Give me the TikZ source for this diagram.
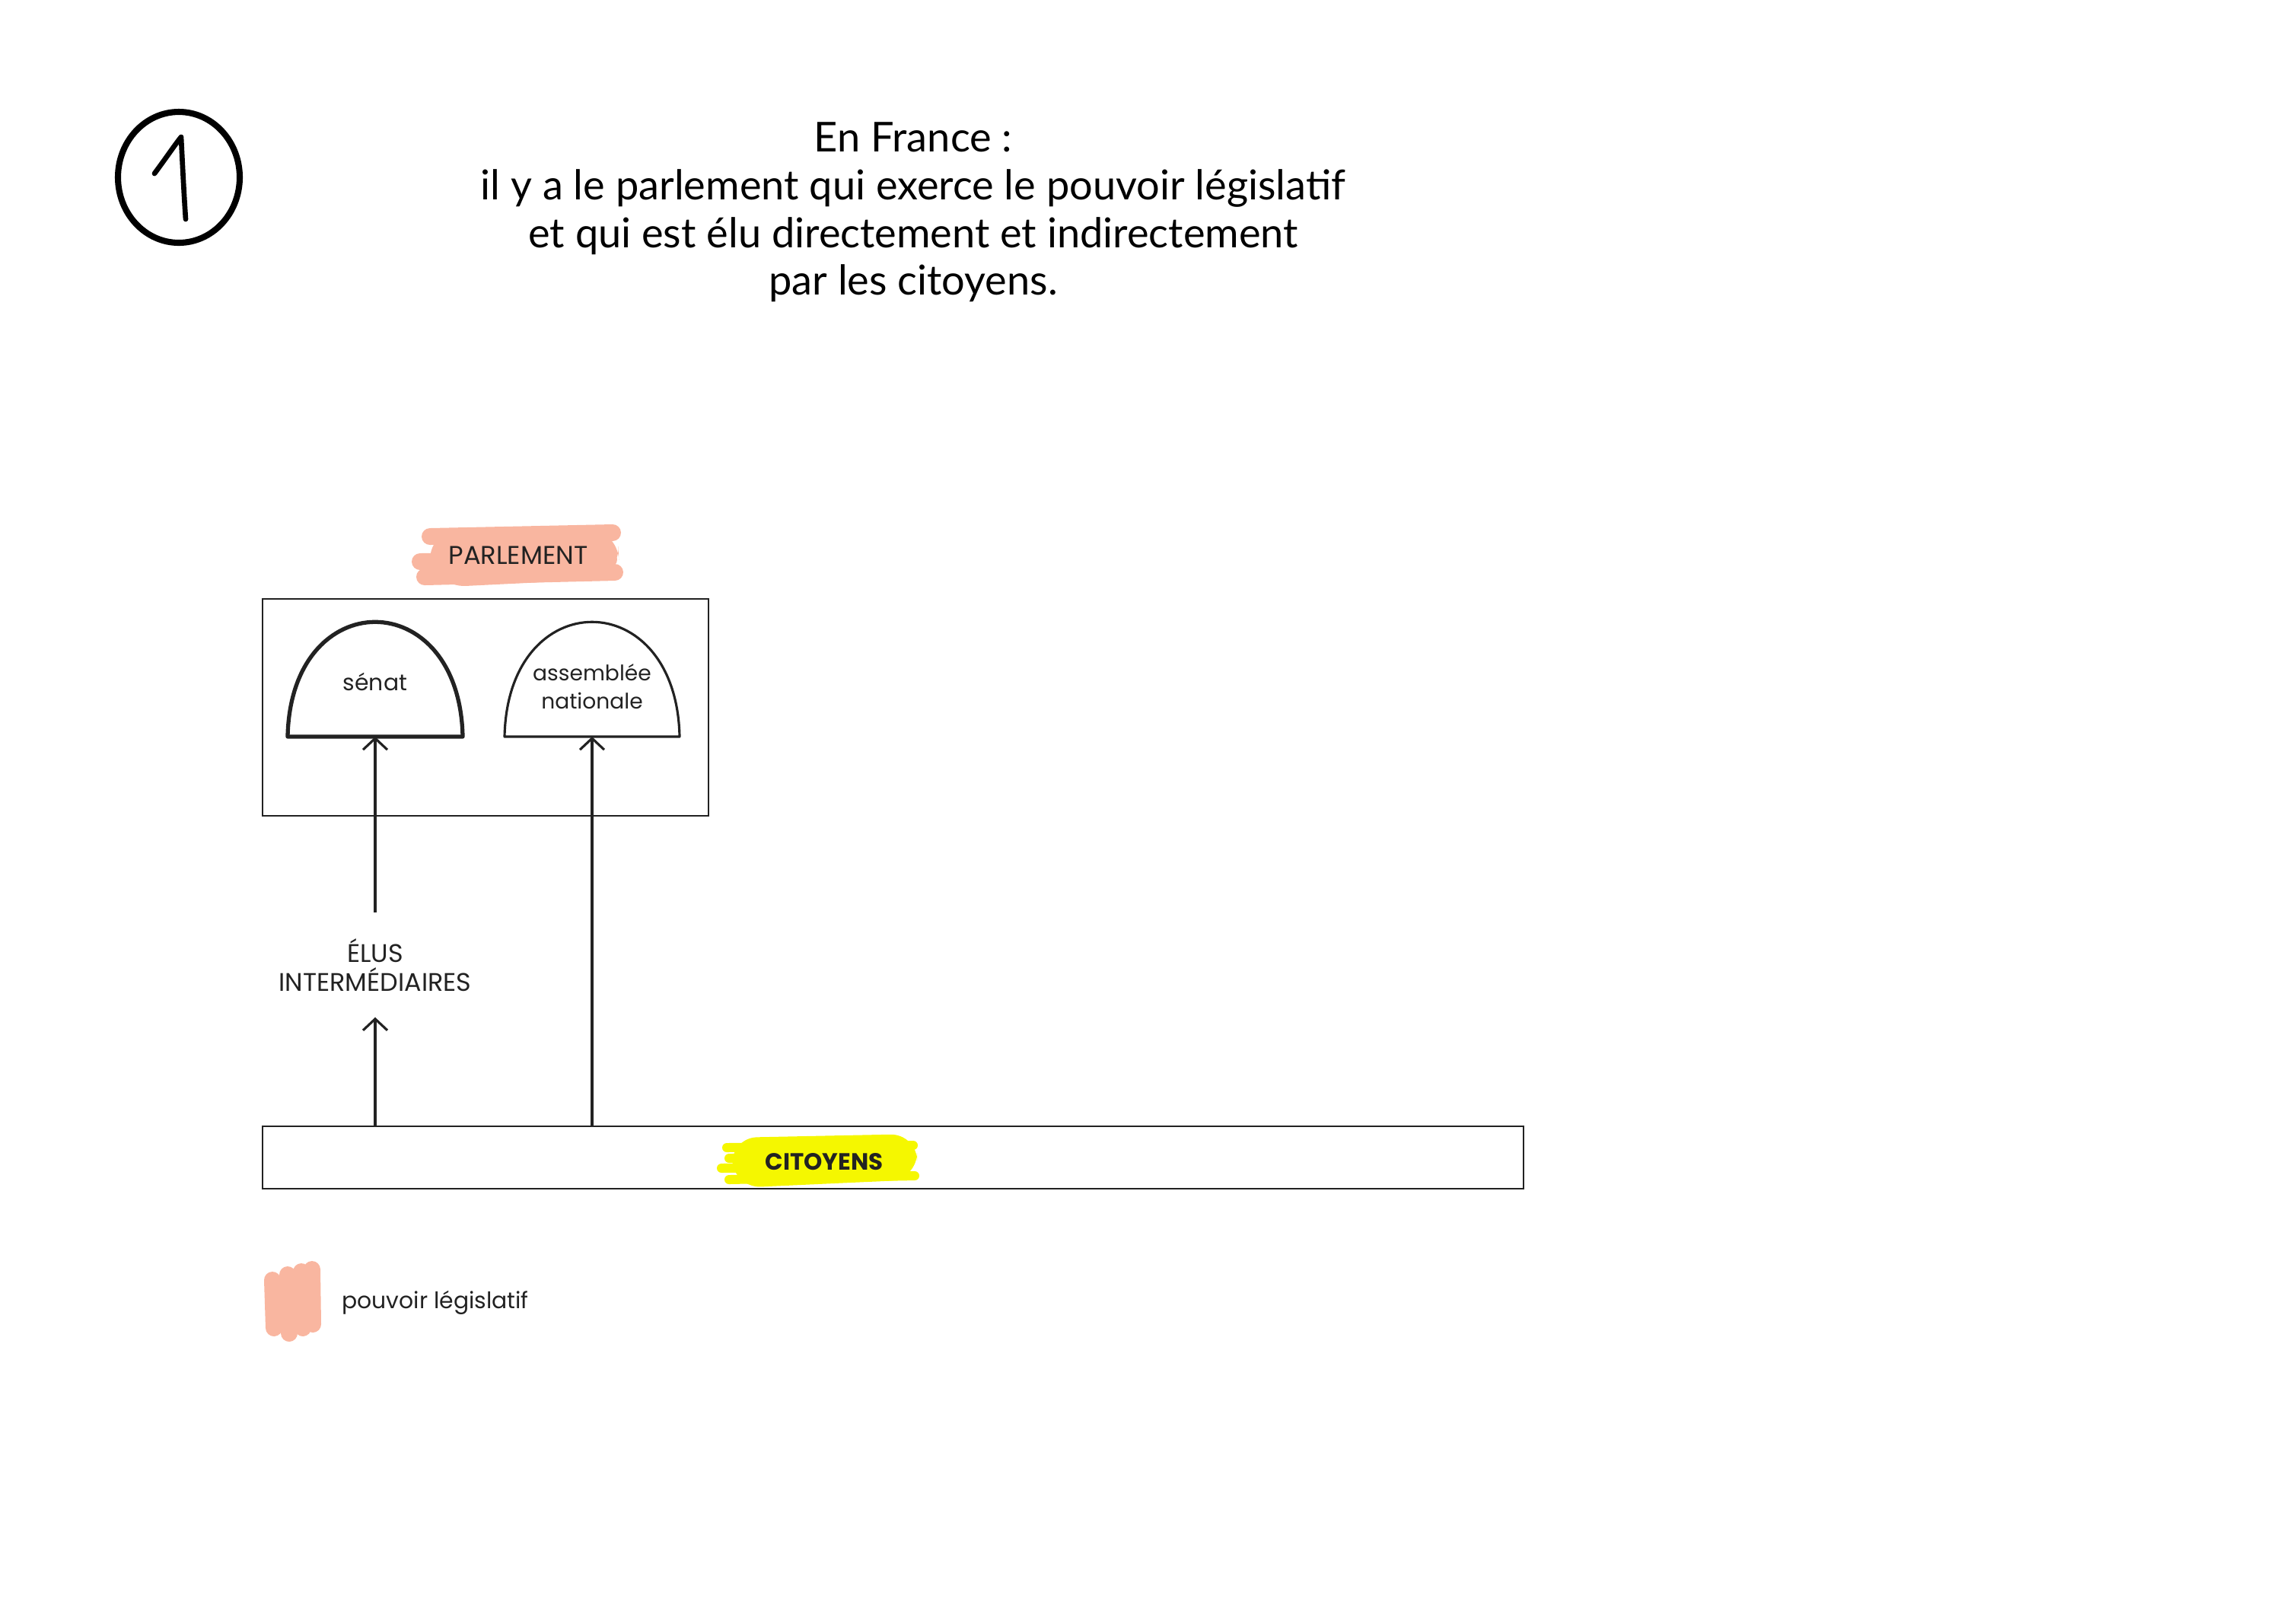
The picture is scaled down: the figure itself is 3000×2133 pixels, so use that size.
\documentclass[tikz,border=0pt]{standalone}
\usepackage{fontspec}
\setmainfont{Poppins}
\newfontfamily\titlefont{Lato}
\usetikzlibrary{arrows.meta}
\definecolor{salmon}{HTML}{F9B6A0}
\definecolor{hlyellow}{HTML}{F5F700}
\definecolor{ink}{HTML}{222222}
\tikzset{
  frame/.style={draw=ink, line width=0.6pt, inner sep=0pt},
  label/.style={text=ink, font=\fontsize{8.5}{11}\selectfont, align=center},
  caps/.style={text=ink, font=\fontsize{9.6}{11.2}\selectfont, align=center},
  link/.style={draw=ink, line width=0.9pt, -{Straight Barb[length=1.5mm, width=3.2mm, line width=0.9pt]}},
  brush/.style={line width=2.2mm, line cap=round},
}
\begin{document}
\begin{tikzpicture}[x=0.1mm, y=-0.1mm]
\useasboundingbox (0,0) rectangle (3000,2133);
% circled number
\draw[line width=2.3pt, black] (235,233) ellipse [x radius=80, y radius=86];
\draw[line width=1.9pt, black, line cap=round, line join=round] (203,228) .. controls (220,205) and (230,190) .. (238,180) .. controls (240,220) and (242,260) .. (244,288);
% title
\node[font=\titlefont\fontsize{15.4}{17.9}\selectfont, align=center, text=black, anchor=north] (title) at (1200,148) {En France :\\il y a le parlement qui exerce le pouvoir législatif\\et qui est élu directement et indirectement\\par les citoyens.};
% PARLEMENT highlight
\fill[salmon, rounded corners=12] (560,698) -- (812,694) -- (814,760) -- (570,772) -- cycle;
\draw[salmon, brush] (565,705) -- (805,700);
\draw[salmon, brush] (552,738) -- (800,735);
\draw[salmon, brush] (558,758) -- (808,752);
\node[caps] (parltitle) at (681,730) {PARLEMENT};
% parliament box
\node[frame, minimum width=58.6mm, minimum height=28.5mm, anchor=north west] (parl) at (344,786) {};
% senate dome
\draw[ink, line width=1.5pt, line join=round] (378,968) .. controls (382,767) and (604,767) .. (608,968) -- cycle;
\coordinate (senat) at (493,968);
\node[label] (senattxt) at (493,896) {sénat};
% assemblee dome
\draw[ink, line width=0.9pt, line join=round] (663,968) .. controls (667,767) and (889,767) .. (893,968) -- cycle;
\coordinate (an) at (778,968);
\node[label, font=\fontsize{8}{10.6}\selectfont] (antxt) at (778,902) {assemblée\\nationale};
% elus
\node[caps, font=\fontsize{9.5}{10.6}\selectfont, minimum height=13.6mm, inner sep=0pt] (elus) at (493,1268) {ÉLUS\\INTERMÉDIAIRES};
% citoyens box
\node[frame, minimum width=165.7mm, minimum height=8.2mm, anchor=north west] (cit) at (344,1479) {};
\fill[hlyellow, rounded corners=10] (960,1495) -- (1205,1490) -- (1205,1550) -- (965,1561) -- cycle;
\draw[hlyellow, line width=1.2mm, line cap=round] (955,1508) -- (1200,1505);
\draw[hlyellow, line width=1.2mm, line cap=round] (958,1522) -- (1195,1520);
\draw[hlyellow, line width=1.2mm, line cap=round] (948,1535) -- (1190,1532);
\draw[hlyellow, line width=1.2mm, line cap=round] (958,1550) -- (1202,1545);
\node[label, font=\fontsize{8.8}{11}\selectfont\bfseries] (cittxt) at (1083,1527) {CITOYENS};
% connectors
\draw[link] (elus.north) -- (senat);
\draw[link] (cit.north -| elus) -- (elus.south);
\draw[link] (cit.north -| an) -- (an);
% legend
\draw[salmon, brush] (358,1682) -- (360,1745);
\draw[salmon, brush] (378,1675) -- (380,1752);
\draw[salmon, brush] (396,1671) -- (398,1745);
\draw[salmon, brush] (410,1668) -- (411,1740);
\node[label, anchor=west] (legend) at (437,1712) {pouvoir législatif};
\end{tikzpicture}
\end{document}
